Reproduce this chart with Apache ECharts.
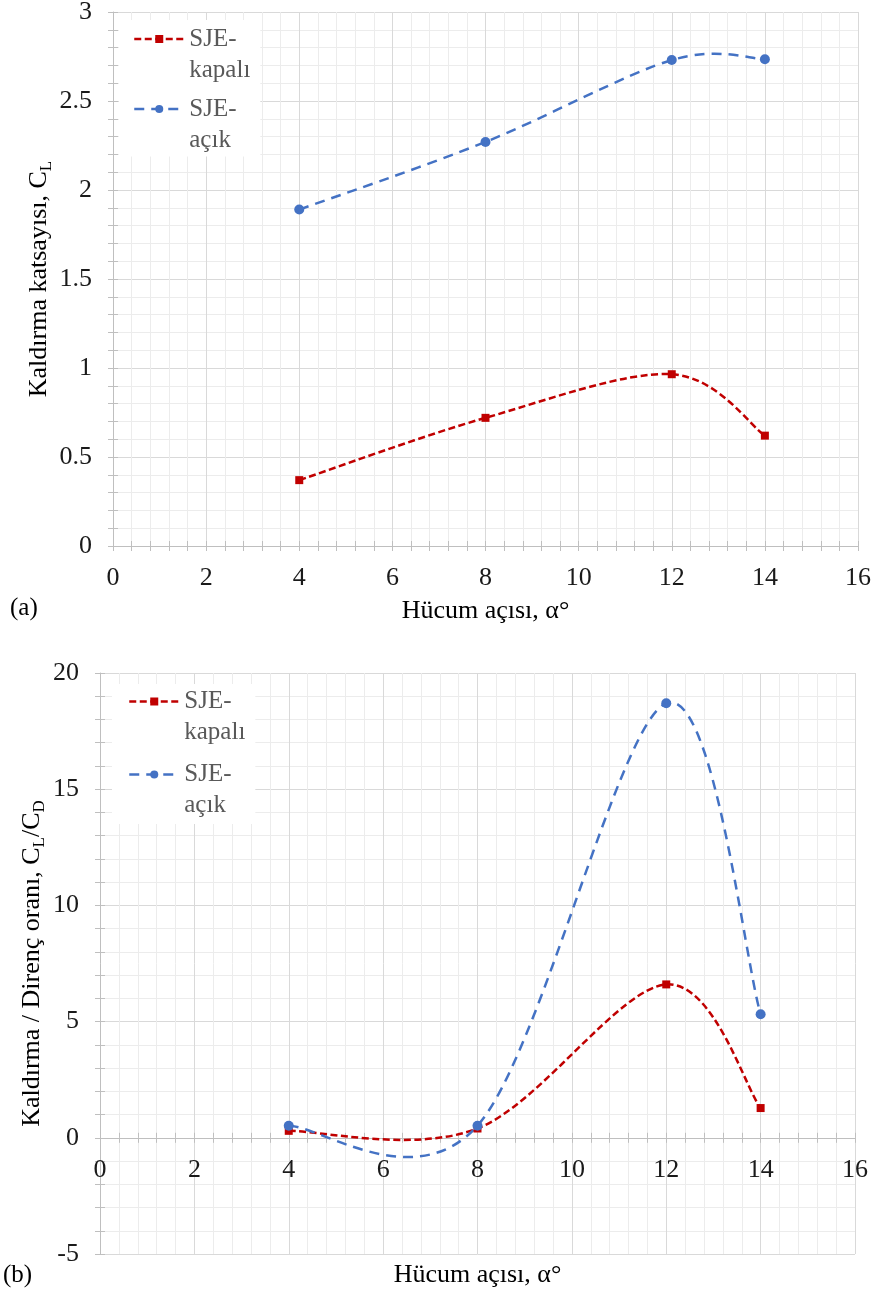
<!DOCTYPE html>
<html>
<head>
<meta charset="utf-8">
<title>SJE kaldırma katsayısı ve kaldırma/direnç oranı</title>
<script src="https://cdn.jsdelivr.net/npm/echarts/dist/echarts.min.js"></script>
<style>
  html, body { margin: 0; padding: 0; background: #ffffff; }
  #chart { width: 874px; height: 1295px; }
</style>
</head>
<body>
<div id="chart"></div>
<script>
// Angle of attack (degrees)
const alpha = [4, 8, 12, 14];
// (a) Lift coefficient C_L
const clKapali = [0.37, 0.72, 0.965, 0.62];
const clAcik = [1.89, 2.27, 2.73, 2.735];
// (b) Lift / drag ratio C_L/C_D
const ratioKapali = [0.3, 0.4, 6.6, 1.28];
const ratioAcik = [0.52, 0.52, 18.7, 5.32];
// Series names
const seriesNames = ['SJE-kapalı', 'SJE-açık'];
// Axis ranges: [min, max, major interval]
const xRange = [0, 16, 2];
const clRange = [0, 3, 0.5];
const ratioRange = [-5, 20, 5];

const SERIF = 'Liberation Serif';
const RED = '#C00000';
const BLUE = '#4472C4';
const AXIS_GREY = '#bfbfbf';
const MAJOR_GRID = '#d9d9d9';
const MINOR_GRID = '#ececec';
const RED_DASH = [7, 3.5];
const BLUE_DASH = [10, 7];

function pairs(xs, ys) {
  return xs.map(function (x, i) { return [x, ys[i]]; });
}

// Smoothed curve through the points: cubic Bezier segments with
// Catmull-Rom tangents (control points at 1/6 of the neighbour chord).
function smoothRenderer(color, dash) {
  return function (params, api) {
    if (params.dataIndexInside !== 0) return;
    const n = params.dataInsideLength;
    const p = [];
    for (let i = 0; i < n; i++) {
      p.push(api.coord([api.value(0, i), api.value(1, i)]));
    }
    let d = 'M' + p[0][0] + ' ' + p[0][1];
    for (let i = 0; i < n - 1; i++) {
      const a = p[Math.max(i - 1, 0)];
      const b = p[i];
      const c = p[i + 1];
      const e = p[Math.min(i + 2, n - 1)];
      const c1x = b[0] + (c[0] - a[0]) / 6;
      const c1y = b[1] + (c[1] - a[1]) / 6;
      const c2x = c[0] - (e[0] - b[0]) / 6;
      const c2y = c[1] - (e[1] - b[1]) / 6;
      d += ' C' + c1x + ' ' + c1y + ' ' + c2x + ' ' + c2y + ' ' + c[0] + ' ' + c[1];
    }
    return {
      type: 'path',
      shape: { pathData: d },
      style: { fill: 'none', stroke: color, lineWidth: 2.5, lineDash: dash, lineCap: 'butt' }
    };
  };
}

function labelStyle(margin) {
  return {
    show: true, margin: margin, fontFamily: SERIF, fontSize: 26,
    color: '#1a1a1a', showMinLabel: true, showMaxLabel: true, hideOverlap: false
  };
}

function mainAxis(grid, range, extra) {
  return Object.assign({
    type: 'value',
    gridIndex: grid,
    min: range[0],
    max: range[1],
    interval: range[2],
    nameMoveOverlap: false,
    axisLine: { show: true, onZero: false, lineStyle: { color: AXIS_GREY, width: 1 } },
    axisTick: { show: true, inside: false, length: 5, lineStyle: { color: AXIS_GREY, width: 1 } },
    minorTick: { show: true, splitNumber: 5, length: 5, lineStyle: { color: AXIS_GREY, width: 1 } },
    axisLabel: labelStyle(20),
    splitLine: { show: true, lineStyle: { color: MAJOR_GRID, width: 1 } },
    minorSplitLine: { show: true, lineStyle: { color: MINOR_GRID, width: 1 } }
  }, extra);
}

// Second axis on the same line carrying the inner half of the tick marks
function tickMirror(grid, range, position, offset) {
  return {
    type: 'value',
    gridIndex: grid,
    position: position,
    offset: offset || 0,
    min: range[0],
    max: range[1],
    interval: range[2],
    axisLine: { show: false, onZero: false },
    axisTick: { show: true, inside: true, length: 5, lineStyle: { color: AXIS_GREY, width: 1 } },
    minorTick: { show: true, splitNumber: 5, length: 5, lineStyle: { color: AXIS_GREY, width: 1 } },
    axisLabel: { show: false },
    splitLine: { show: false },
    minorSplitLine: { show: false }
  };
}

const nameStyle = {
  fontFamily: SERIF,
  fontSize: 26,
  color: '#000000',
  rich: {
    n: { fontFamily: SERIF, fontSize: 26, lineHeight: 31, color: '#000000' },
    s: { fontFamily: SERIF, fontSize: 17, lineHeight: 31, color: '#000000', padding: [14, 0, 0, 0] }
  }
};

function legendFor(top, left, gap, padding) {
  return {
    orient: 'vertical',
    left: left,
    top: top,
    padding: padding,
    itemGap: gap,
    itemWidth: 50,
    itemHeight: 10,
    backgroundColor: '#ffffff',
    selectedMode: false,
    data: seriesNames,
    lineStyle: { width: 2.5, opacity: 1 },
    formatter: function (name) { return '{t|' + name.replace('-', '-}\n{t|') + '}'; },
    textStyle: {
      fontFamily: SERIF, height: 31, fontSize: 25,
      rich: { t: { fontFamily: SERIF, fontSize: 25, lineHeight: 31, color: '#595959' } }
    }
  };
}

function markerSeries(name, xi, yi, data, color, dash, symbol, size) {
  return {
    name: name,
    type: 'line',
    xAxisIndex: xi,
    yAxisIndex: yi,
    data: data,
    smooth: false,
    symbol: symbol,
    symbolSize: size,
    showSymbol: true,
    z: 3,
    itemStyle: { color: color, borderWidth: 0 },
    lineStyle: { color: color, width: 2.5, type: dash, opacity: 0 },
    emphasis: { disabled: true }
  };
}

function curveSeries(name, xi, yi, data, color, dash) {
  return {
    name: name,
    type: 'custom',
    xAxisIndex: xi,
    yAxisIndex: yi,
    data: data,
    encode: { x: 0, y: 1 },
    z: 1,
    silent: true,
    renderItem: smoothRenderer(color, dash)
  };
}

// Pixel distance from the bottom edge of plot (b) up to its zero line
const GRID_B_HEIGHT = 1295 - 673 - 41;
const zeroOffsetB = -GRID_B_HEIGHT * (0 - ratioRange[0]) / (ratioRange[1] - ratioRange[0]);

const chart = echarts.init(document.getElementById('chart'), null, { renderer: 'canvas' });

chart.setOption({
  animation: false,
  backgroundColor: '#ffffff',
  textStyle: { fontFamily: SERIF },
  title: [
    { text: '(a)', left: 10, top: 596, padding: 0,
      textStyle: { fontFamily: SERIF, fontSize: 25, fontWeight: 'normal', color: '#000000', lineHeight: 25 } },
    { text: '(b)', left: 3, top: 1263, padding: 0,
      textStyle: { fontFamily: SERIF, fontSize: 25, fontWeight: 'normal', color: '#000000', lineHeight: 25 } }
  ],
  grid: [
    { left: 113, right: 16, top: 12, bottom: 749, containLabel: false, outerBoundsMode: 'none' },
    { left: 100, right: 19, top: 673, bottom: 41, containLabel: false, outerBoundsMode: 'none' }
  ],
  legend: [
    legendFor(20, 119, 14, [6.5, 10, 4, 14]),
    legendFor(684, 112, 17, [5, 10, 6, 16])
  ],
  xAxis: [
    mainAxis(0, xRange, {
      position: 'bottom',
      axisLabel: labelStyle(19),
      name: 'Hücum açısı, α°', nameLocation: 'middle', nameGap: 52,
      nameTextStyle: { fontFamily: SERIF, fontSize: 26, color: '#000000' }
    }),
    tickMirror(0, xRange, 'bottom', 0),
    mainAxis(1, xRange, {
      position: 'bottom',
      offset: zeroOffsetB,
      axisLabel: labelStyle(19),
      name: 'Hücum açısı, α°', nameLocation: 'middle', nameGap: 124,
      nameTextStyle: { fontFamily: SERIF, fontSize: 26, color: '#000000' }
    }),
    tickMirror(1, xRange, 'bottom', zeroOffsetB)
  ],
  yAxis: [
    mainAxis(0, clRange, {
      position: 'left',
      name: '{n|Kaldırma katsayısı, C}{s|L}', nameLocation: 'middle', nameGap: 58,
      nameTextStyle: nameStyle,
      axisLabel: labelStyle(21)
    }),
    tickMirror(0, clRange, 'left', 0),
    mainAxis(1, ratioRange, {
      position: 'left',
      name: '{n|Kaldırma / Direnç oranı, C}{s|L}{n|/C}{s|D}', nameLocation: 'middle', nameGap: 52,
      nameTextStyle: nameStyle,
      axisLabel: labelStyle(21)
    }),
    tickMirror(1, ratioRange, 'left', 0)
  ],
  series: [
    markerSeries(seriesNames[0], 0, 0, pairs(alpha, clKapali), RED, RED_DASH, 'rect', 8),
    markerSeries(seriesNames[1], 0, 0, pairs(alpha, clAcik), BLUE, BLUE_DASH, 'circle', 10),
    markerSeries(seriesNames[0], 2, 2, pairs(alpha, ratioKapali), RED, RED_DASH, 'rect', 8),
    markerSeries(seriesNames[1], 2, 2, pairs(alpha, ratioAcik), BLUE, BLUE_DASH, 'circle', 10),
    curveSeries(seriesNames[0], 0, 0, pairs(alpha, clKapali), RED, RED_DASH),
    curveSeries(seriesNames[1], 0, 0, pairs(alpha, clAcik), BLUE, BLUE_DASH),
    curveSeries(seriesNames[0], 2, 2, pairs(alpha, ratioKapali), RED, RED_DASH),
    curveSeries(seriesNames[1], 2, 2, pairs(alpha, ratioAcik), BLUE, BLUE_DASH)
  ]
});
</script>
</body>
</html>
